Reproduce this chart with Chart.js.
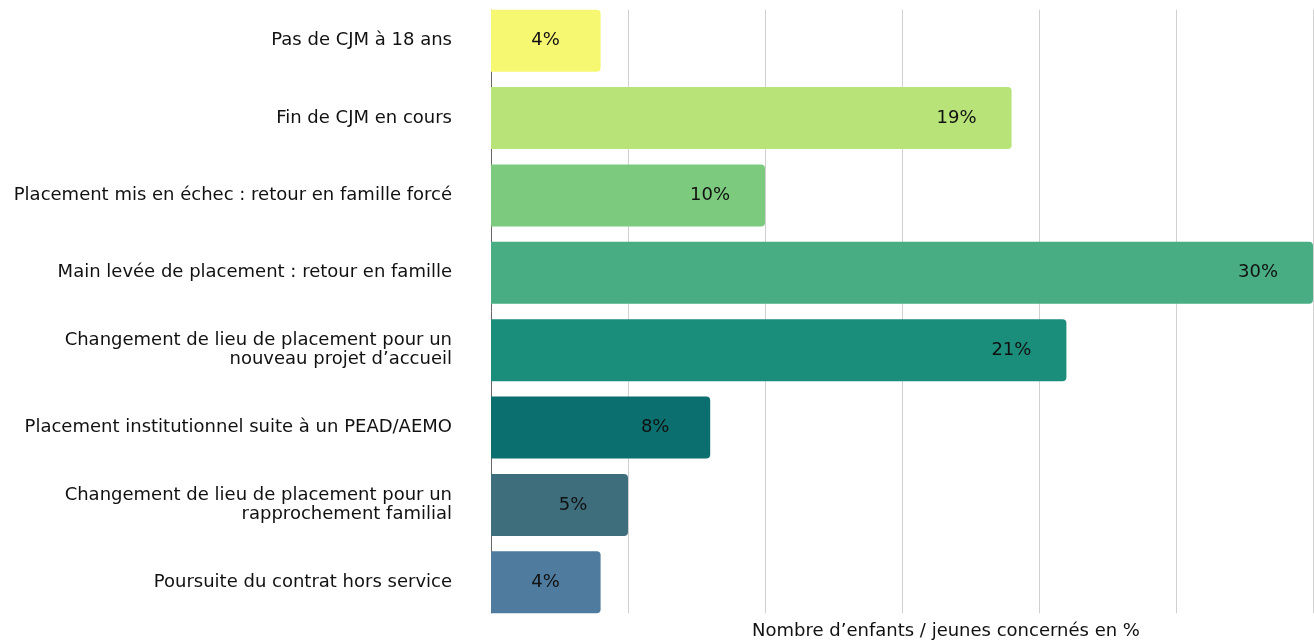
<!DOCTYPE html>
<html lang="fr">
<head>
    <meta charset="UTF-8">
    <title>Motifs</title>
    <script src="https://cdn.jsdelivr.net/npm/chart.js"></script>
    <style>
        html, body { margin: 0; padding: 0; background: #fff; }
        .graph { width: 1314px; height: 641px; }
    </style>
</head>
<body>
    <div class="graph">
        <canvas id="chartBar"></canvas>
    </div>
<script>
    // données
    var categories = [
        "Pas de CJM à 18 ans",
        "Fin de CJM en cours",
        "Placement mis en échec : retour en famille forcé",
        "Main levée de placement : retour en famille",
        ["Changement de lieu de placement pour un", "nouveau projet d’accueil"],
        "Placement institutionnel suite à un PEAD/AEMO",
        ["Changement de lieu de placement pour un", "rapprochement familial"],
        "Poursuite du contrat hors service"
    ];
    var valeurs = [4, 19, 10, 30, 21, 8, 5, 4];
    var couleurs = ['#f7f872', '#b7e378', '#7cca7e', '#48ad82', '#1b8d7b', '#0b6f6f', '#3e6e7c', '#4f7b9e'];
    var ticksX = [0, 5, 10, 15, 20, 25, 30];
    var titreX = "Nombre d’enfants / jeunes concernés en %";

    var police = "'DejaVu Sans', sans-serif";

    // grille verticale, axe, étiquettes de valeur et titre de l'axe
    var pluginDessin = {
        id: 'dessin',
        beforeDatasetsDraw: function (chart) {
            var ctx = chart.ctx;
            var x = chart.scales.x;
            var meta = chart.getDatasetMeta(0);
            var premier = meta.data[0], dernier = meta.data[meta.data.length - 1];
            var haut = premier.y - premier.height / 2;
            var bas = dernier.y + dernier.height / 2;
            ctx.save();
            ctx.lineWidth = 1;
            ticksX.forEach(function (v) {
                var px = Math.round(x.getPixelForValue(v)) + 0.5;
                ctx.strokeStyle = v === 0 ? '#666666' : '#d0d0d0';
                ctx.beginPath();
                ctx.moveTo(px, haut);
                ctx.lineTo(px, bas);
                ctx.stroke();
            });
            ctx.restore();
        },
        afterDatasetsDraw: function (chart) {
            var ctx = chart.ctx;
            var meta = chart.getDatasetMeta(0);
            ctx.save();
            ctx.font = "18px " + police;
            ctx.fillStyle = '#111111';
            ctx.textAlign = 'center';
            ctx.textBaseline = 'middle';
            meta.data.forEach(function (bar, i) {
                ctx.fillText(valeurs[i] + '%', bar.x - 55, bar.y);
            });
            var ca = chart.chartArea;
            ctx.fillText(titreX, (ca.left + ca.right) / 2 + 44, 631);
            ctx.restore();
        }
    };

    var ctxBar = document.getElementById("chartBar").getContext("2d");
    var configBar = {
        type: 'bar',
        data: {
            labels: categories,
            datasets: [{
                data: valeurs,
                backgroundColor: couleurs,
                borderRadius: 4,
                borderSkipped: 'start',
                categoryPercentage: 0.802,
                barPercentage: 1
            }]
        },
        options: {
            indexAxis: 'y',
            responsive: true,
            maintainAspectRatio: false,
            animation: false,
            layout: { autoPadding: false, padding: { top: 2, bottom: 20, right: 1, left: 0 } },
            plugins: {
                legend: { display: false },
                tooltip: { enabled: false }
            },
            scales: {
                x: {
                    min: 0,
                    max: 30,
                    display: false
                },
                y: {
                    grid: { display: false, drawTicks: false },
                    border: { display: false },
                    ticks: {
                        color: '#111111',
                        padding: 39,
                        font: { family: police, size: 18, lineHeight: 1.05 }
                    },
                    afterFit: function (scale) {
                        scale.width = 491;
                        scale.paddingTop = 0;
                        scale.paddingBottom = 0;
                    }
                }
            }
        },
        plugins: [pluginDessin]
    };
    var graphique = new Chart(ctxBar, configBar);
</script>
</body>
</html>
